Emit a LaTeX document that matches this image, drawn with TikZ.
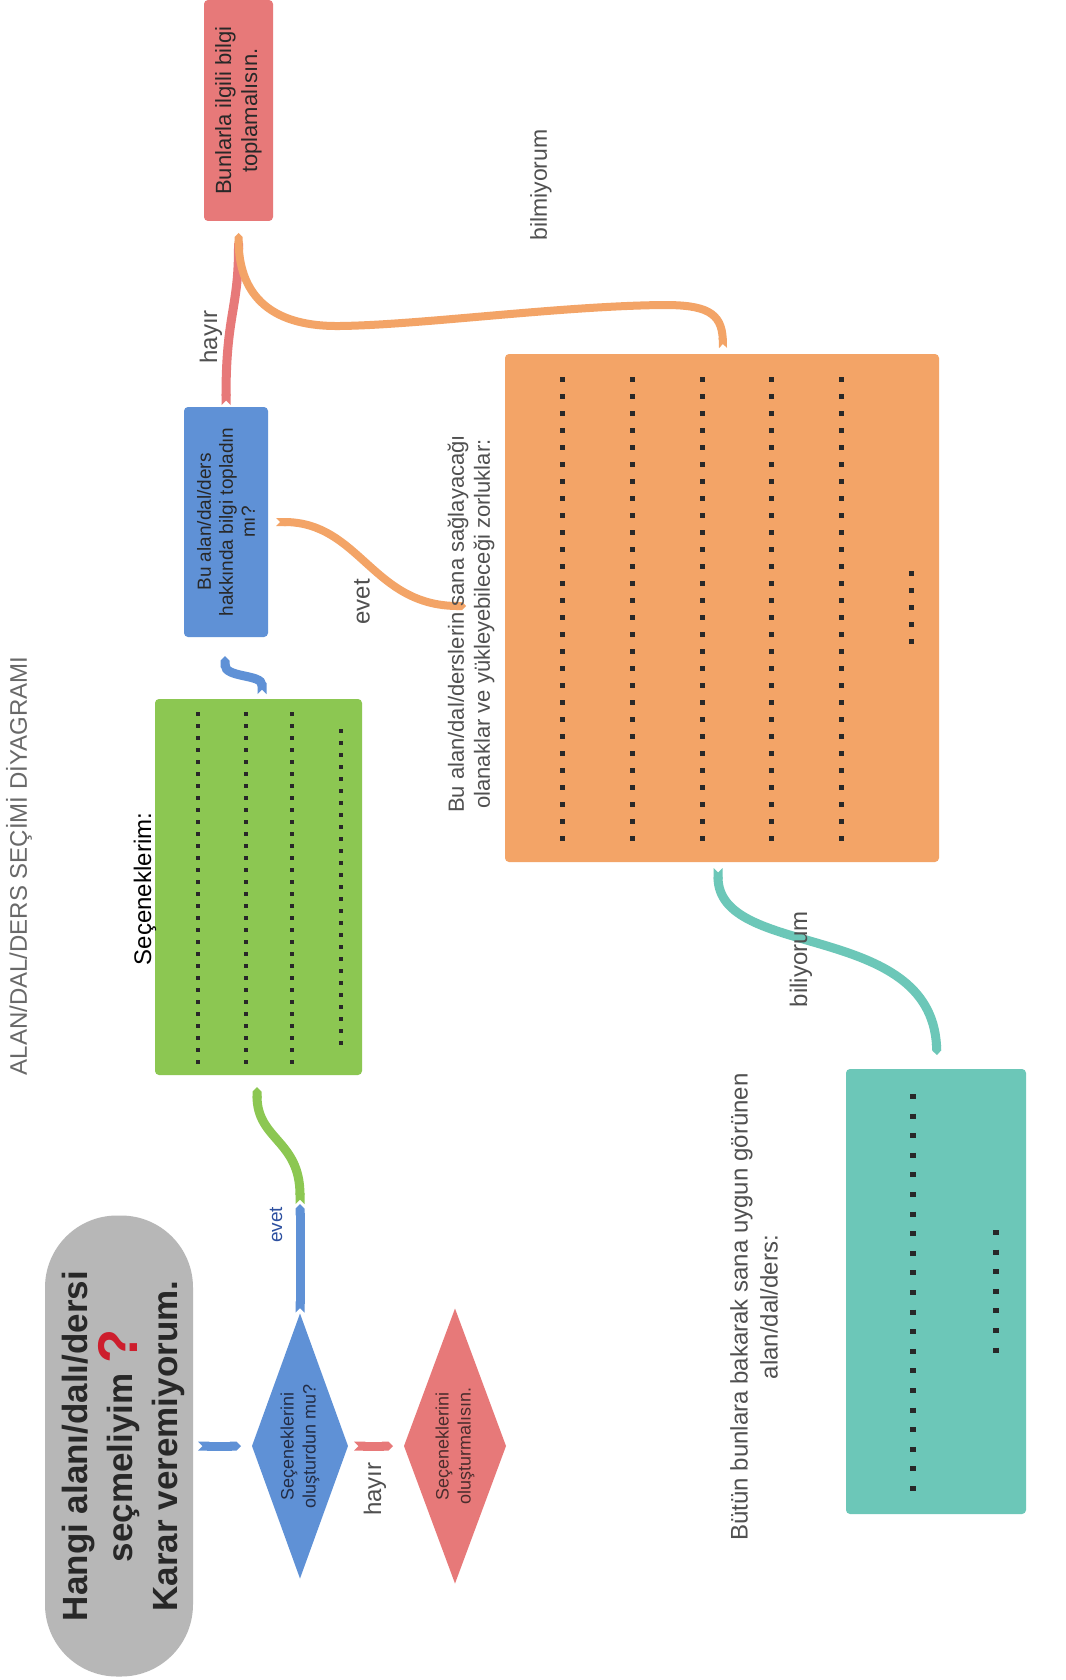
\documentclass[tikz,border=0pt]{standalone}
\usepackage{fontspec}
\setmainfont{Liberation Sans}
\usetikzlibrary{shapes.geometric,arrows.meta,calc}
\definecolor{cgray}{RGB}{183,183,183}
\definecolor{cblue}{RGB}{95,145,214}
\definecolor{cred}{RGB}{231,121,121}
\definecolor{cgreen}{RGB}{140,199,82}
\definecolor{corange}{RGB}{243,164,103}
\definecolor{cteal}{RGB}{108,199,184}
\definecolor{ctext}{RGB}{40,40,40}
\definecolor{clabel}{RGB}{80,80,80}
\definecolor{ctitle}{RGB}{105,105,105}
\definecolor{cqmark}{RGB}{205,30,45}
\definecolor{cevet}{RGB}{45,80,160}
\definecolor{cdot}{RGB}{40,40,40}
\definecolor{cdiaA}{RGB}{35,45,70}
\definecolor{cdiaB}{RGB}{75,45,45}
\newcommand{\fsz}[2]{\fontsize{#1}{#2}\selectfont}
\begin{document}
\begin{tikzpicture}[x=1pt,y=-1pt,
  every node/.style={inner sep=0pt, outer sep=0pt},
  rbox/.style={rounded corners=4pt, draw=none, rotate=90, align=center, text=ctext},
  plainbox/.style={rounded corners=4pt, draw=none},
  dia/.style={diamond, draw=none, rotate=90, align=center, inner sep=0pt},
  lbl/.style={rotate=90, align=center, text=clabel},
  con/.style={line width=9pt, line cap=butt, {Triangle Cap[reversed]}-{Triangle Cap}},
  dots/.style={draw=cdot, line cap=butt}
]
\fill[white] (0,0) rectangle (1065,1680);
\useasboundingbox (0,0) rectangle (1065,1680);

% boxes and shapes
\node[fill=cgray, rotate=90, rounded corners=72pt, minimum width=461pt, minimum height=148pt] (start) at (119,1446) {};
\node[rotate=90, align=center, font={\fsz{35}{45}\bfseries}, text=ctext] (starttext) at (123,1446)
  {Hangi alanı/dalı/dersi\\seçmeliyim \smash{\raisebox{-5pt}{\textcolor{cqmark}{\fsz{56}{56}?}}}\\Karar veremiyorum.};
\node[dia, fill=cblue, minimum width=265pt, minimum height=96pt, shape aspect=2.76,
      text=cdiaA, font={\fsz{18}{22}}] (d1) at (300,1446) {Seçeneklerini\\oluşturdun mu?};
\node[dia, fill=cred, minimum width=275pt, minimum height=102pt, shape aspect=2.7,
      text=cdiaB, font={\fsz{18}{22}}] (d2) at (455,1446) {Seçeneklerini\\oluşturmalısın.};
\node[plainbox, fill=cgreen, minimum width=207pt, minimum height=376pt] (green) at (258.5,887) {};
\node[plainbox, fill=corange, minimum width=434pt, minimum height=508pt] (ob) at (722,608) {};
\node[plainbox, fill=cteal, minimum width=180pt, minimum height=445pt] (tb) at (936,1291.5) {};
\node[rbox, fill=cblue, minimum width=230pt, minimum height=84pt, font={\fsz{19}{22}}] (bq) at (226,522)
  {Bu alan/dal/ders\\hakkında bilgi topladın\\mı?};
\node[rbox, fill=cred, minimum width=221pt, minimum height=69pt, font={\fsz{22}{26}}] (rb) at (238.5,110.5)
  {Bunlarla ilgili bilgi\\toplamalısın.};

% dots
\foreach \x in {198,246,292}
  \draw[dots, line width=4pt, dash pattern=on 4pt off 8pt] (\x,712) -- (\x,1064);
\draw[dots, line width=4pt, dash pattern=on 4pt off 8pt] (341,729) -- (341,1045);
\foreach \x in {562,632,702,771,841}
  \draw[dots, line width=5pt, dash pattern=on 5pt off 12pt] (\x,377) -- (\x,841);
\draw[dots, line width=5pt, dash pattern=on 5pt off 12pt] (911,571) -- (911,644);
\draw[dots, line width=6pt, dash pattern=on 5pt off 14.6pt] (913,1094) -- (913,1491);
\draw[dots, line width=6pt, dash pattern=on 5pt off 14.6pt] (996,1230) -- (996,1353);

% connectors
\coordinate (gmid) at (300,1204);
\coordinate (evetend) at (466,606);
\draw[con, draw=cblue, shorten <=5pt, shorten >=11pt] (start) -- (d1);
\draw[con, draw=cred, shorten <=6pt, shorten >=11pt] (d1) -- (d2);
\draw[con, draw=cgreen] (gmid) .. controls (300,1140) and (257,1140) .. ($(green.south)+(-1.5,12)$);
\draw[con, draw=cblue, shorten <=1pt] (d1.east) -- (gmid);
\draw[con, draw=cblue] ($(green.north)+(3.5,-5)$) .. controls +(0,-20) and +(0,22) .. ($(bq.west)+(-1,19)$);
\draw[con, draw=cred] ($(bq.east)+(0,-2)$) .. controls +(0,-90) and +(0,70) .. ($(rb.west)+(0,18)$);
\draw[con, draw=corange, line width=8pt] ($(ob.north)+(1,-6)$) .. controls (722,312) and (705,305) .. (664,305)
  .. controls (560,306) and (420,325) .. (340,326) .. controls (265,327) and (239,290) .. ($(rb.west)+(0,12)$);
\draw[con, draw=corange, line width=8pt] ($(bq.south)+(8,0)$) .. controls (360,522) and (372,606) .. (evetend);
\draw[con, draw=cteal] ($(ob.south)+(-4,6)$) .. controls (718,960) and (930,920) .. ($(tb.north)+(1,-14)$);

% labels
\node[lbl, text=ctitle, font={\fsz{24}{28}}] (title) at (19,866) {ALAN/DAL/DERS SEÇİMİ DİYAGRAMI};
\node[lbl, text=black, font={\fsz{24}{28}}] (lsec) at (145,889) {Seçeneklerim:};
\node[lbl, text=cevet, font={\fsz{19}{22}}] (levet1) at (276,1225) {evet};
\node[lbl, font={\fsz{24}{28}}] (lhayir1) at (375,1489) {hayır};
\node[lbl, font={\fsz{24}{28}}] (lhayir2) at (211,337) {hayır};
\node[lbl, font={\fsz{24}{28}}] (levet2) at (362,602) {evet};
\node[lbl, font={\fsz{23}{27}}] (lbil) at (541,185) {bilmiyorum};
\node[lbl, font={\fsz{24}{28}}] (lbili) at (801,959) {biliyorum};
\node[lbl, font={\fsz{22}{26}}] (lob) at (471,624)
  {Bu alan/dal/derslerin sana sağlayacağı\\olanaklar ve yükleyebileceği zorluklar:};
\node[lbl, font={\fsz{24}{30}}] (ltb) at (754,1307)
  {Bütün bunlara bakarak sana uygun görünen\\alan/dal/ders:};
\end{tikzpicture}
\end{document}
